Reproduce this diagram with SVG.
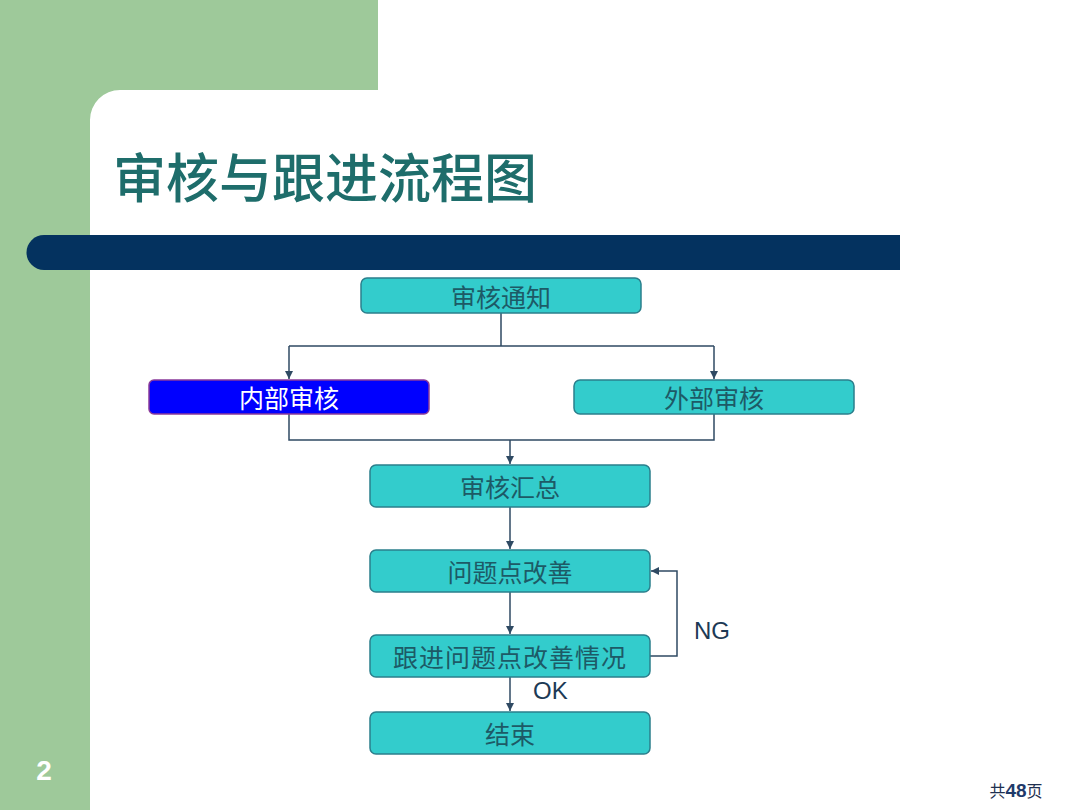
<svg xmlns="http://www.w3.org/2000/svg" width="1080" height="810" viewBox="0 0 1080 810">
<defs>
<style>
.node{fill:#33CCCC;stroke:#2b7f8c;stroke-width:1.5}
.lbl{font-family:"Noto Sans CJK SC","Liberation Sans",sans-serif;font-size:25px;fill:#1d5a66;text-anchor:middle;dominant-baseline:central}
.conn{fill:none;stroke:#2f4a63;stroke-width:1.5}
.en{font-family:"Liberation Sans",Arial,sans-serif;font-size:24px;fill:#1d3a55}
</style>
<marker id="arr" viewBox="0 0 10 10" refX="10" refY="5" markerWidth="8" markerHeight="8" markerUnits="userSpaceOnUse" orient="auto">
<path d="M0,0 L10,5 L0,10 z" fill="#2f4a63"/>
</marker>
</defs>
<rect width="1080" height="810" fill="#ffffff"/>
<path d="M0,0 H378 V90 H120 A30,30 0 0 0 90,120 V810 H0 Z" fill="#9ec99a"/>
<path d="M44,235 H900 V270 H44 A17.5,17.5 0 0 1 44,235 Z" fill="#04325f"/>
<text x="113" y="198" font-family="Noto Sans CJK SC,sans-serif" font-size="53" font-weight="500" fill="#1e6d6b">审核与跟进流程图</text>
<g id="connectors">
<path class="conn" d="M501,313 V346 M289,346 H714" />
<path class="conn" d="M289,346 V379" marker-end="url(#arr)"/>
<path class="conn" d="M714,346 V379" marker-end="url(#arr)"/>
<path class="conn" d="M289,414 V440 H714 V414"/>
<path class="conn" d="M510,440 V464" marker-end="url(#arr)"/>
<path class="conn" d="M510,507 V549" marker-end="url(#arr)"/>
<path class="conn" d="M510,592 V634" marker-end="url(#arr)"/>
<path class="conn" d="M510,677 V711" marker-end="url(#arr)"/>
<path class="conn" d="M650,656 H677 V571 H651" marker-end="url(#arr)"/>
<text class="en" x="694" y="639">NG</text>
<text class="en" x="533" y="699">OK</text>
</g>
<g id="n1"><rect class="node" x="361" y="278" width="280" height="35" rx="6"/><text class="lbl" x="501" y="295.5">审核通知</text></g>
<g id="n2"><rect x="149" y="380" width="280" height="34" rx="5" fill="#0000ff" stroke="#8a3a9a" stroke-width="1.5"/><text class="lbl" x="289" y="397" style="fill:#ffffff">内部审核</text></g>
<g id="n3"><rect class="node" x="574" y="380" width="280" height="34" rx="6"/><text class="lbl" x="714" y="397">外部审核</text></g>
<g id="n4"><rect class="node" x="370" y="465" width="280" height="42" rx="6"/><text class="lbl" x="510" y="486">审核汇总</text></g>
<g id="n5"><rect class="node" x="370" y="550" width="280" height="42" rx="6"/><text class="lbl" x="510" y="571">问题点改善</text></g>
<g id="n6"><rect class="node" x="370" y="635" width="280" height="42" rx="6"/><text class="lbl" x="510" y="656" letter-spacing="1">跟进问题点改善情况</text></g>
<g id="n7"><rect class="node" x="370" y="712" width="280" height="42" rx="6"/><text class="lbl" x="510" y="733">结束</text></g>
<text x="44" y="780" font-family="Liberation Sans,Arial,sans-serif" font-size="28" font-weight="bold" fill="#ffffff" text-anchor="middle">2</text>
<text x="1016" y="797" font-family="Noto Sans CJK SC,sans-serif" font-size="16" fill="#1f3050" text-anchor="middle">共<tspan font-family="Liberation Sans,Arial,sans-serif" font-weight="bold" font-size="19" fill="#1f3a6a">48</tspan>页</text>
</svg>
